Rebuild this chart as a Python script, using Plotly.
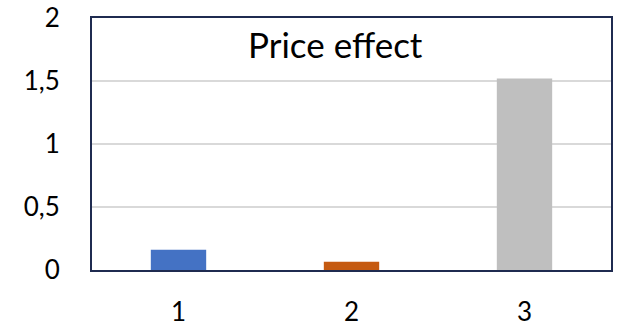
import plotly.graph_objects as go

categories = ["1", "2", "3"]
values = [0.16, 0.065, 1.52]
bar_colors = ["#4472C4", "#C55A11", "#BFBFBF"]
y_ticks = [0, 0.5, 1, 1.5, 2]
title_text = "Price effect"

fig = go.Figure(
    go.Bar(
        x=categories,
        y=values,
        marker=dict(color=bar_colors, line=dict(width=0)),
        hoverinfo="skip",
    )
)

frame_color = "#1F2B50"
font_family = "Lato, Carlito, Calibri, sans-serif"

fig.update_layout(
    width=623,
    height=328,
    margin=dict(l=92, r=12, t=18, b=58),
    paper_bgcolor="white",
    plot_bgcolor="white",
    separators=",.",
    bargap=0.68,
    showlegend=False,
    font=dict(family=font_family, size=26, color="#000000"),
    annotations=[
        dict(
            text=title_text,
            xref="paper",
            yref="paper",
            x=0.47,
            y=0.895,
            xanchor="center",
            yanchor="middle",
            showarrow=False,
            font=dict(family=font_family, size=35, color="#000000"),
        )
    ],
)

fig.update_xaxes(
    type="category",
    automargin=False,
    showline=True,
    linecolor=frame_color,
    linewidth=2,
    mirror=True,
    showgrid=False,
    ticks="",
    ticklabelstandoff=18,
    tickfont=dict(family=font_family, size=26, color="#000000"),
)

fig.update_yaxes(
    range=[0, 2],
    automargin=False,
    tickvals=y_ticks,
    showline=True,
    linecolor=frame_color,
    linewidth=2,
    mirror=True,
    showgrid=True,
    gridcolor="#D9D9D9",
    gridwidth=1.5,
    zeroline=False,
    ticks="",
    ticklabelstandoff=25,
    tickfont=dict(family=font_family, size=26, color="#000000"),
)

fig.write_html("out.html")
